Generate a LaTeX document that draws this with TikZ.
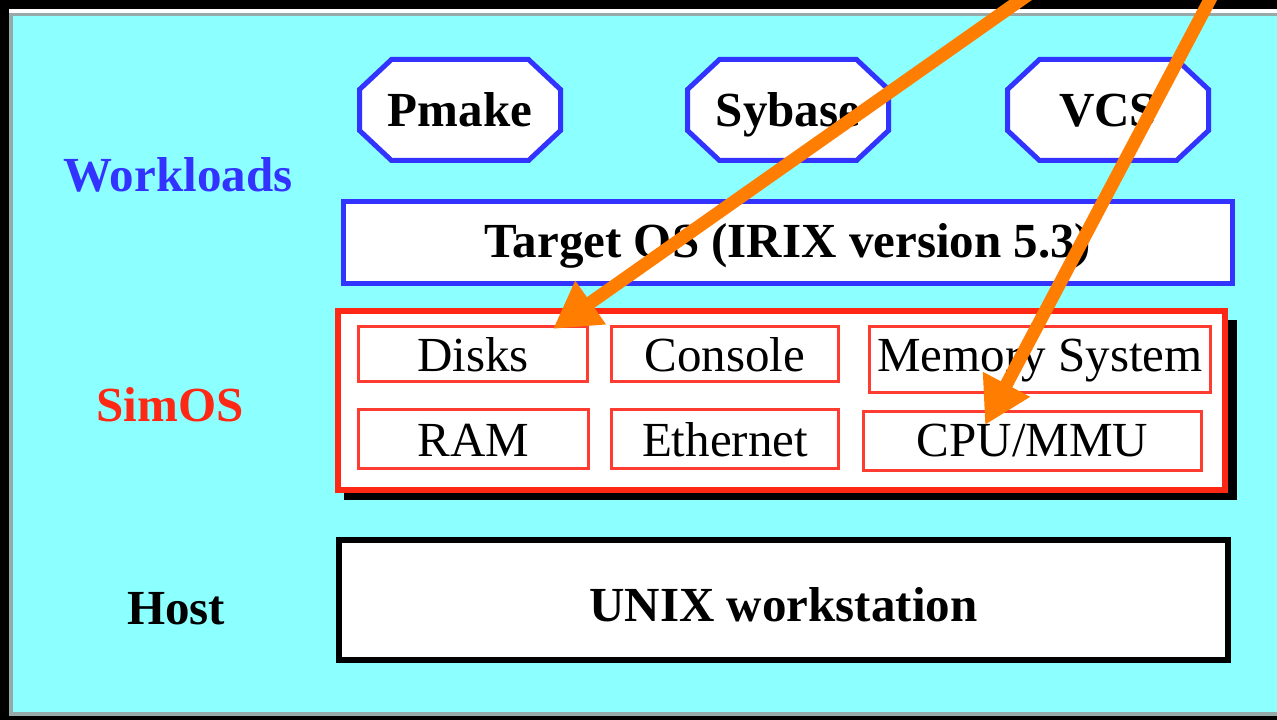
\documentclass[tikz,border=0pt]{standalone}
\usepackage{fontspec}
\setmainfont{Liberation Serif}
\usetikzlibrary{arrows.meta}
\definecolor{bgcyan}{RGB}{140,255,255}
\definecolor{framegray}{RGB}{150,170,170}
\definecolor{wlblue}{RGB}{51,51,255}
\definecolor{simred}{RGB}{255,40,20}
\definecolor{partred}{RGB}{255,60,50}
\definecolor{arrorange}{RGB}{255,125,0}
\newcommand{\diagfont}{\fontsize{49}{58}\selectfont}
\tikzset{
  layer/.style = {draw, fill=white, line width=5pt, font=\diagfont\bfseries},
  part/.style = {draw=partred, fill=white, line width=3pt, font=\diagfont, text height=36pt, text depth=0pt},
  octline/.style = {draw=wlblue, fill=white, line width=5pt, line join=miter},
  lbl/.style = {font=\diagfont\bfseries},
  pointer/.style = {draw=arrorange, line width=13pt, -{Triangle[length=46pt,width=50pt]}},
}

\begin{document}
\begin{tikzpicture}[x=1pt, y=1pt, inner sep=0pt]
    \useasboundingbox (0,0) rectangle (1277,720);

    % backdrop and frame
    \fill[black] (0,0) rectangle (1277,720);
    \fill[white] (9,707) rectangle (1277,711);
    \fill[framegray] (9,4) rectangle (1277,707);
    \fill[bgcyan] (13,8) rectangle (1277,704);

    % row labels
    \node[lbl, text=wlblue, anchor=base] (workloads) at (178,528) {Workloads};
    \node[lbl, text=simred, anchor=base] (simos) at (170,298) {SimOS};
    \node[lbl, anchor=base] (host) at (176,95) {Host};

    % workloads
    \foreach \nm/\cx/\txt in {pmake/460/Pmake, sybase/788/Sybase, vcs/1108/VCS} {
        \draw[octline] (\cx,610) ++(-68.5,50.5) -- ++(137,0) -- ++(32,-30) -- ++(0,-41)
            -- ++(-32,-30) -- ++(-137,0) -- ++(-32,30) -- ++(0,41) -- cycle;
        \node[lbl, anchor=base] (\nm) at (\cx,593) {\txt};
    }

    % target OS
    \node[layer, draw=wlblue, minimum width=889pt, minimum height=82pt,
          text height=30pt, text depth=0pt] (targetos) at (788,477) {Target OS (IRIX version 5.3)};

    % SimOS box with its shadow
    \fill[black] (344,220) rectangle (1237,400);
    \node[draw=simred, fill=white, line width=6pt, minimum width=887pt, minimum height=179pt] (simbox) at (781.5,319.5) {};

    \node[part, minimum width=229pt, minimum height=55pt] (disks) at (473,366) {Disks};
    \node[part, minimum width=227pt, minimum height=55pt] (console) at (725,366) {Console};
    \node[part, minimum width=341pt, minimum height=66pt, text height=25pt] (memsys) at (1040,360.5) {Memory System};
    \node[part, minimum width=230pt, minimum height=59pt] (ram) at (473.5,281) {RAM};
    \node[part, minimum width=227pt, minimum height=59pt] (ethernet) at (725,281) {Ethernet};
    \node[part, minimum width=338pt, minimum height=59pt, text height=32pt] (cpummu) at (1032.5,279) {CPU/MMU};

    % host
    \node[layer, draw=black, line width=6pt, minimum width=889pt, minimum height=120pt,
          text height=44pt, text depth=0pt] (unix) at (783.5,120) {UNIX workstation};

    % pointers
    \coordinate (from disks) at (1032,728);
    \coordinate (to disks) at (553,391);
    \coordinate (from cpu) at (1214,728);
    \coordinate (to cpu) at (985,295);
    \draw[pointer] (from disks) -- (to disks);
    \draw[pointer] (from cpu) -- (to cpu);
\end{tikzpicture}
\end{document}
